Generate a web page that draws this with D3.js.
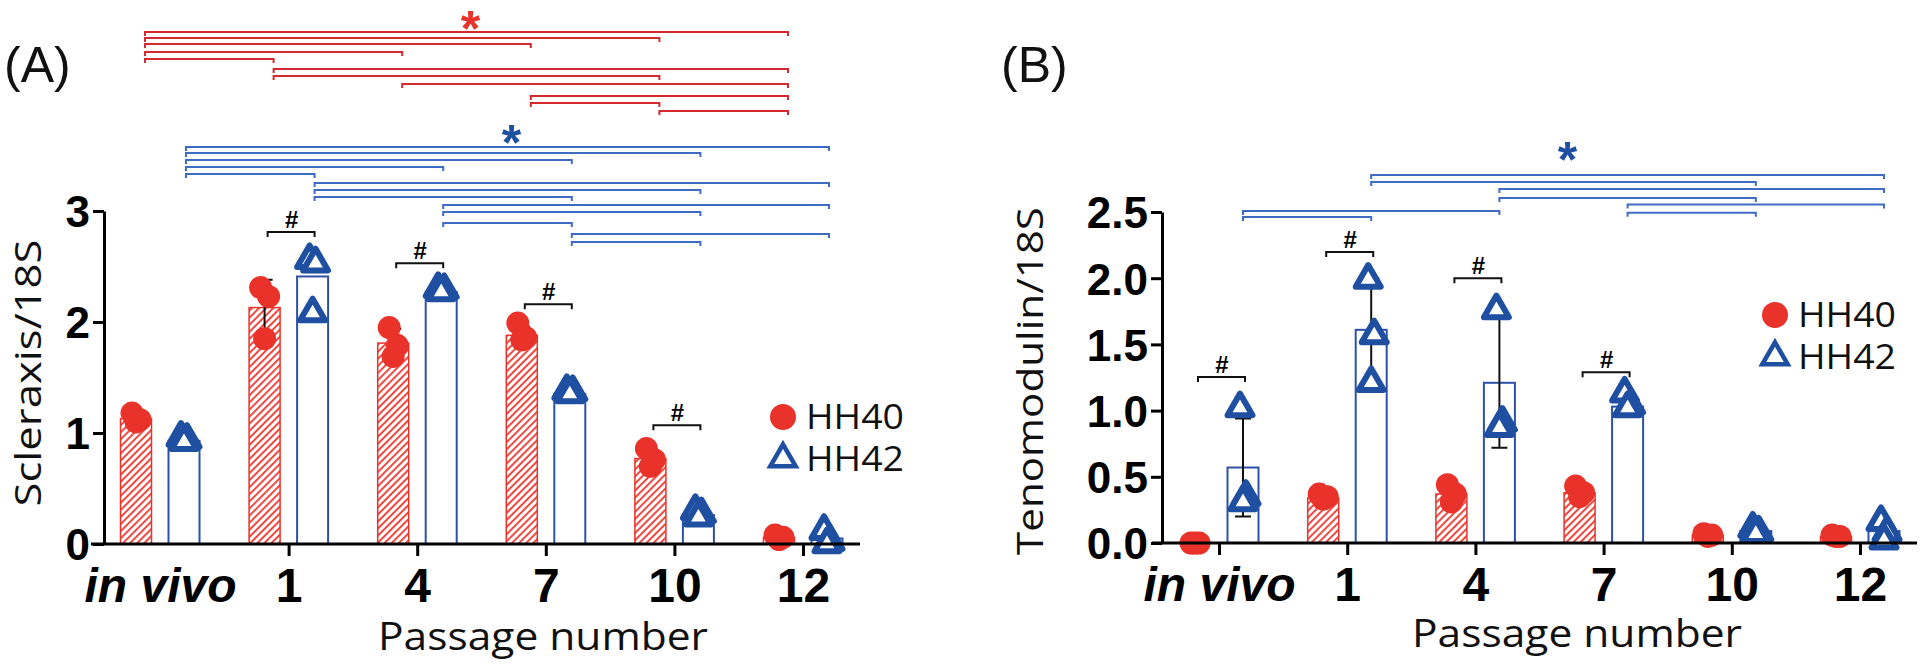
<!DOCTYPE html>
<html><head><meta charset="utf-8">
<script src="https://cdn.jsdelivr.net/npm/d3@7"></script>
<style>body{margin:0;background:#fff} svg{display:block}</style>
</head><body>
<svg id="chart" width="1920" height="664"></svg>
<script>
// ---------------- DATA ----------------
const categories = ["in vivo", "1", "4", "7", "10", "12"];
const seriesNames = ["HH40", "HH42"];

// Panel A : Scleraxis/18S
const scxHH40Mean = [1.13, 2.13, 1.81, 1.88, 0.77, 0.06];
const scxHH40SD   = [0.04, 0.25, 0.13, 0.08, 0.07, 0.02];
const scxHH40Pts  = [[1.18,1.12,1.10],[2.31,2.23,1.85],[1.95,1.79,1.69],[1.99,1.86,1.84],[0.86,0.76,0.70],[0.08,0.06,0.04]];
const scxHH42Mean = [0.93, 2.41, 2.27, 1.35, 0.26, 0.05];
const scxHH42SD   = [0.02, 0.00, 0.02, 0.02, 0.03, 0.05];
const scxHH42Pts  = [[0.96,0.94,0.92],[2.56,2.53,2.08],[2.30,2.29,2.27],[1.38,1.37,1.35],[0.30,0.27,0.24],[0.12,0.02,0.00]];
const scxTicks = [0, 1, 2, 3];
const scxHash = [[1, 2.81], [2, 2.53], [3, 2.16], [4, 1.07]];            // [category, level]
const scxHH40Sig = [[0,5,4.613],[0,4,4.559],[0,3,4.505],[0,2,4.432],[0,1,4.369],[1,5,4.279],[1,4,4.216],[2,5,4.144],[3,5,4.036],[3,4,3.973],[4,5,3.90]];
const scxHH40Star = 4.75;
const scxHH42Sig = [[0,5,3.577],[0,4,3.523],[0,3,3.459],[0,2,3.396],[0,1,3.333],[1,5,3.252],[1,4,3.189],[1,3,3.126],[2,5,3.054],[2,4,2.991],[2,3,2.892],[3,5,2.793],[3,4,2.721]];
const scxHH42Star = 3.72;

// Panel B : Tenomodulin/18S
const tnmdHH40Mean = [0.00, 0.34, 0.37, 0.38, 0.06, 0.05];
const tnmdHH40SD   = [0.00, 0.02, 0.05, 0.04, 0.01, 0.01];
const tnmdHH40Pts  = [[0.00,0.00,0.00],[0.37,0.35,0.33],[0.44,0.37,0.31],[0.43,0.38,0.35],[0.07,0.06,0.05],[0.06,0.05,0.05]];
const tnmdHH42Mean = [0.57, 1.61, 1.21, 1.03, 0.09, 0.09];
const tnmdHH42SD   = [0.37, 0.39, 0.49, 0.05, 0.02, 0.06];
const tnmdHH42Pts  = [[1.02,0.35,0.31],[1.99,1.57,1.21],[1.76,0.91,0.87],[1.13,1.04,1.02],[0.11,0.08,0.07],[0.16,0.08,0.02]];
const tnmdTicks = [0, 0.5, 1.0, 1.5, 2.0, 2.5];
const tnmdHash = [[0, 1.254], [1, 2.198], [2, 2.0], [3, 1.29]];
const tnmdHH42Sig = [[1,5,2.779],[1,4,2.727],[2,5,2.674],[2,4,2.606],[3,5,2.556],[0,2,2.508],[3,4,2.495],[0,1,2.462]];
const tnmdHH42Star = 2.983;

// ---------------- STYLE ----------------
const RED = "#e8322a", RED_LINE = "#d42a2f", BLUE = "#1f4fa0", BLUE_BAR = "#2d50a8", BLUE_LINE = "#3d6cc2";
const TICKFONT = "'Liberation Sans', Arial, sans-serif";
const TITLEFONT = "'Open Sans', 'Noto Sans', sans-serif";

const svg = d3.select("#chart");
const defs = svg.append("defs");
const pat = defs.append("pattern").attr("id", "hatch").attr("patternUnits", "userSpaceOnUse")
  .attr("width", 5).attr("height", 5).attr("patternTransform", "rotate(45)");
pat.append("rect").attr("width", 5).attr("height", 5).attr("fill", "#fff");
pat.append("line").attr("x1", 1).attr("y1", 0).attr("x2", 1).attr("y2", 5).attr("stroke", "#ee4a42").attr("stroke-width", 2);

const jitterR = [-4, 4, 0], jitterB = [-3, 3, 0];

function panel(o) {
  const g = svg.append("g");
  const x = d3.scalePoint().domain(categories).range(o.xRange);
  const y = d3.scaleLinear().domain(o.yDomain).range(o.yRange);
  const off = 24, bw = 31;
  const xr = i => x(categories[i]) - off, xb = i => x(categories[i]) + off;

  // bars
  g.selectAll(".barR").data(o.redMean).join("rect")
    .attr("x", (d, i) => xr(i) - bw / 2).attr("width", bw)
    .attr("y", d => y(d)).attr("height", d => y(0) - y(d))
    .attr("fill", "url(#hatch)").attr("stroke", RED).attr("stroke-width", 1.5);
  g.selectAll(".barB").data(o.blueMean).join("rect")
    .attr("x", (d, i) => xb(i) - bw / 2).attr("width", bw)
    .attr("y", d => y(d)).attr("height", d => y(0) - y(d))
    .attr("fill", "#fff").attr("stroke", BLUE_BAR).attr("stroke-width", 2);

  // error bars
  function err(means, sds, xf) {
    means.forEach((m, i) => {
      if (!sds[i]) return;
      const cx = xf(i), y1 = y(m - sds[i]), y2 = y(m + sds[i]);
      g.append("path").attr("d", `M${cx},${y1}V${y2}M${cx-8},${y1}H${cx+8}M${cx-8},${y2}H${cx+8}`)
        .attr("stroke", "#111").attr("stroke-width", 2).attr("fill", "none");
    });
  }
  err(o.redMean, o.redSD, xr);
  err(o.blueMean, o.blueSD, xb);

  // points
  o.redPts.forEach((pts, i) => {
    g.selectAll(null).data(pts).join("circle")
      .attr("cx", (d, k) => xr(i) + jitterR[k]).attr("cy", d => y(d)).attr("r", 11.5).attr("fill", RED);
  });
  const tri = d3.symbol().type(d3.symbolTriangle).size(270);
  o.bluePts.forEach((pts, i) => {
    g.selectAll(null).data(pts).join("path")
      .attr("d", tri).attr("transform", (d, k) => `translate(${xb(i) + jitterB[k]},${y(d)})`)
      .attr("fill", "#fff").attr("stroke", BLUE).attr("stroke-width", 6).attr("stroke-linejoin", "round");
  });

  // axes
  const ya = g.append("g").attr("transform", `translate(${o.yAxisX},0)`)
    .call(d3.axisLeft(y).tickValues(o.ticks).tickFormat(o.fmt).tickSize(11).tickSizeOuter(0).tickPadding(3));
  ya.attr("font-family", TICKFONT).attr("font-size", 44).attr("font-weight", "bold");
  ya.selectAll("path,line").attr("stroke", "#000").attr("stroke-width", 3);
  ya.selectAll("text").attr("fill", "#000").attr("dy", "0.36em");

  const xa = g.append("g").attr("transform", `translate(0,${y(0)})`)
    .call(d3.axisBottom(x).tickSize(12).tickSizeOuter(0));
  xa.select(".domain").remove();
  xa.attr("font-family", TICKFONT).attr("font-size", 48).attr("font-weight", "bold");
  xa.selectAll("line").attr("stroke", "#000").attr("stroke-width", 3);
  xa.selectAll("text").attr("fill", "#000").attr("y", 58).attr("dy", 0)
    .attr("font-style", d => d === "in vivo" ? "italic" : null);
  if (o.hideFirstTick) xa.selectAll(".tick line").filter(d => d === "in vivo").remove();
  g.append("line").attr("x1", o.xLine[0]).attr("x2", o.xLine[1]).attr("y1", y(0)).attr("y2", y(0))
    .attr("stroke", "#000").attr("stroke-width", 3);

  // # brackets
  o.hash.forEach(([i, lv]) => {
    const cx = x(categories[i]), yy = y(lv);
    g.append("path").attr("d", `M${cx-21},${yy+5}V${yy}H${cx+26}V${yy+5}`)
      .attr("stroke", "#111").attr("stroke-width", 2).attr("fill", "none");
    g.append("text").attr("x", cx + 3).attr("y", yy - 4).attr("text-anchor", "middle")
      .attr("font-family", TICKFONT).attr("font-weight", "bold").attr("font-size", 24).text("#");
  });

  // significance brackets
  function sig(list, offX, color, starLv, starColor) {
    let lo = Infinity, hi = -Infinity;
    list.forEach(([a, b, lv]) => {
      const x1 = x(categories[a]) + offX, x2 = x(categories[b]) + offX, yy = y(lv);
      lo = Math.min(lo, x1); hi = Math.max(hi, x2);
      g.append("path").attr("d", `M${x1},${yy+4}V${yy}H${x2}V${yy+4}`)
        .attr("stroke", color).attr("stroke-width", 2).attr("fill", "none");
    });
    g.append("text").attr("x", (lo + hi) / 2 + 4).attr("y", y(starLv) + 29).attr("text-anchor", "middle")
      .attr("font-family", TICKFONT).attr("font-weight", "bold").attr("font-size", 50)
      .attr("fill", starColor).text("*");
  }
  (o.sigs || []).forEach(s => sig(s.list, s.off, s.color, s.star, s.starColor));

  // legend
  const lg = g.append("g");
  lg.append("circle").attr("cx", o.legend[0]).attr("cy", o.legend[1]).attr("r", 13).attr("fill", RED);
  lg.append("path").attr("d", d3.symbol().type(d3.symbolTriangle).size(280))
    .attr("transform", `translate(${o.legend[0]},${o.legend[1] + 42})`)
    .attr("fill", "#fff").attr("stroke", BLUE).attr("stroke-width", 4.5).attr("stroke-linejoin", "miter");
  seriesNames.forEach((s, k) => {
    lg.append("text").attr("x", o.legend[0] + 23).attr("y", o.legend[1] + 12 + k * 42)
      .attr("font-family", TITLEFONT).attr("font-size", 34).attr("fill", "#111")
      .attr("textLength", 98).attr("lengthAdjust", "spacingAndGlyphs").text(s);
  });

  // titles
  g.append("text").attr("transform", `translate(${o.yTitle[0]},${o.yTitle[1]}) rotate(-90)`)
    .attr("text-anchor", "middle").attr("font-family", TITLEFONT).attr("font-size", 37).attr("fill", "#111")
    .attr("textLength", o.yTitle[2]).attr("lengthAdjust", "spacingAndGlyphs").text(o.yLabel);
  g.append("text").attr("x", o.xTitle[0]).attr("y", o.xTitle[1]).attr("text-anchor", "middle")
    .attr("font-family", TITLEFONT).attr("font-size", 38).attr("fill", "#111")
    .attr("textLength", 330).attr("lengthAdjust", "spacingAndGlyphs").text("Passage number");
  g.append("text").attr("x", o.tag[0]).attr("y", o.tag[1]).attr("font-family", TICKFONT)
    .attr("font-size", 50).attr("fill", "#111").text(o.tagText);
}

panel({
  xRange: [160, 803], yDomain: [0, 3], yRange: [544, 211], yAxisX: 104, xLine: [91, 860],
  redMean: scxHH40Mean, redSD: scxHH40SD, redPts: scxHH40Pts,
  blueMean: scxHH42Mean, blueSD: scxHH42SD, bluePts: scxHH42Pts,
  ticks: scxTicks, fmt: d3.format("d"), hideFirstTick: true, hash: scxHash,
  sigs: [
    {list: scxHH40Sig, off: -15, color: RED_LINE, star: scxHH40Star, starColor: RED},
    {list: scxHH42Sig, off: 26, color: BLUE_LINE, star: scxHH42Star, starColor: BLUE}
  ],
  legend: [783, 417], yLabel: "Scleraxis/18S", yTitle: [41, 373, 267], xTitle: [543, 650],
  tag: [4, 82], tagText: "(A)"
});

panel({
  xRange: [1219, 1860], yDomain: [0, 2.5], yRange: [543, 212], yAxisX: 1162, xLine: [1152, 1917],
  redMean: tnmdHH40Mean, redSD: tnmdHH40SD, redPts: tnmdHH40Pts,
  blueMean: tnmdHH42Mean, blueSD: tnmdHH42SD, bluePts: tnmdHH42Pts,
  ticks: tnmdTicks, fmt: d3.format(".1f"), hideFirstTick: false, hash: tnmdHash,
  sigs: [
    {list: tnmdHH42Sig, off: 24, color: BLUE_LINE, star: tnmdHH42Star, starColor: BLUE}
  ],
  legend: [1775, 315], yLabel: "Tenomodulin/18S", yTitle: [1043, 381, 348], xTitle: [1577, 647],
  tag: [1001, 82], tagText: "(B)"
});
</script>
</body></html>
